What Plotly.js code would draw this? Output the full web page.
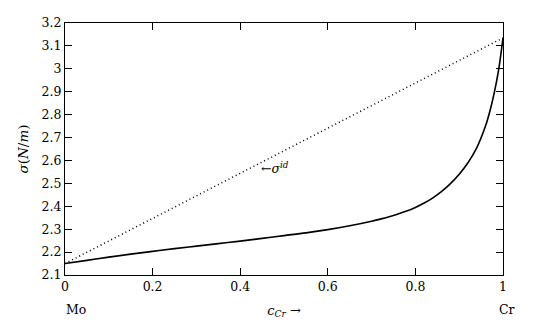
<!DOCTYPE html>
<html>
<head>
<meta charset="utf-8">
<script src="https://cdn.plot.ly/plotly-3.0.1.min.js"></script>
<style>html,body{margin:0;padding:0;background:#fff;}#plot{width:541px;height:333px;}</style>
</head>
<body>
<div id="plot"></div>
<script>
// Ideal (linear) surface tension
const idealX = [0, 1];
const idealY = [2.15, 3.135];

// Actual surface tension curve
const curveX = [0, 0.05, 0.1, 0.15, 0.2, 0.25, 0.3, 0.35, 0.4, 0.45, 0.5, 0.55, 0.6, 0.65, 0.7, 0.72, 0.74, 0.76, 0.78, 0.8, 0.82, 0.84, 0.86, 0.88, 0.9, 0.92, 0.94, 0.96, 0.97, 0.98, 0.99, 1.0];
const curveY = [2.15, 2.164, 2.178, 2.191, 2.203, 2.215, 2.226, 2.237, 2.248, 2.260, 2.272, 2.284, 2.298, 2.315, 2.335, 2.344, 2.354, 2.366, 2.379, 2.395, 2.414, 2.437, 2.465, 2.499, 2.540, 2.590, 2.655, 2.750, 2.815, 2.895, 2.995, 3.135];

const xTicks = [0, 0.2, 0.4, 0.6, 0.8, 1];
const xTickText = ['0', '0.2', '0.4', '0.6', '0.8', '1'];
const yTicks = [2.1, 2.2, 2.3, 2.4, 2.5, 2.6, 2.7, 2.8, 2.9, 3, 3.1, 3.2];
const yTickText = ['2.1', '2.2', '2.3', '2.4', '2.5', '2.6', '2.7', '2.8', '2.9', '3', '3.1', '3.2'];

const endLabels = ['Mo', 'Cr'];
const endLabelX = [0, 1];

const FONT = 'DejaVu Serif';

const traces = [
  {x: idealX, y: idealY, mode: 'lines', line: {color: '#000', width: 1.5, dash: '1px,3px'}, hoverinfo: 'none'},
  {x: curveX, y: curveY, mode: 'lines', line: {color: '#000', width: 1.6, shape: 'spline', smoothing: 1}, hoverinfo: 'none'}
];

const annotations = endLabels.map((t, i) => ({
  x: endLabelX[i], xref: 'x', y: -0.1, yref: 'paper', yanchor: 'top', xanchor: 'center',
  text: t, showarrow: false, font: {family: FONT, size: 12.5, color: '#000'}, xshift: i === 0 ? 11 : 4
}));
annotations.push({
  x: 0.443, y: 2.567, xref: 'x', yref: 'y', xanchor: 'left', yanchor: 'middle',
  text: '←<i>σ</i><sup><i>id</i></sup>', showarrow: false, font: {family: FONT, size: 12.5, color: '#000'}
});

const layout = {
  width: 541, height: 333,
  margin: {l: 65, r: 38, t: 23, b: 58, pad: 0},
  paper_bgcolor: '#fff', plot_bgcolor: '#fff',
  showlegend: false,
  font: {family: FONT, size: 12.5, color: '#000'},
  xaxis: {
    range: [0, 1], tickvals: xTicks, ticktext: xTickText,
    ticks: 'inside', ticklen: 7, tickwidth: 1, tickcolor: '#000',
    showline: true, linecolor: '#000', linewidth: 1, mirror: 'ticks',
    showgrid: false, zeroline: false,
    tickfont: {family: FONT, size: 12.5},
    title: {text: '<i>c</i><sub><i>Cr</i></sub> →', font: {family: FONT, size: 13}, standoff: 12}
  },
  yaxis: {
    range: [2.1, 3.2], tickvals: yTicks, ticktext: yTickText,
    ticks: 'inside', ticklen: 7, tickwidth: 1, tickcolor: '#000',
    showline: true, linecolor: '#000', linewidth: 1, mirror: 'ticks',
    showgrid: false, zeroline: false,
    tickfont: {family: FONT, size: 12.5},
    title: {text: '<i>σ</i>(<i>N</i>/<i>m</i>)', font: {family: FONT, size: 13.5}, standoff: 9}
  },
  annotations: annotations
};

Plotly.newPlot('plot', traces, layout, {staticPlot: true, displayModeBar: false});
</script>
</body>
</html>
